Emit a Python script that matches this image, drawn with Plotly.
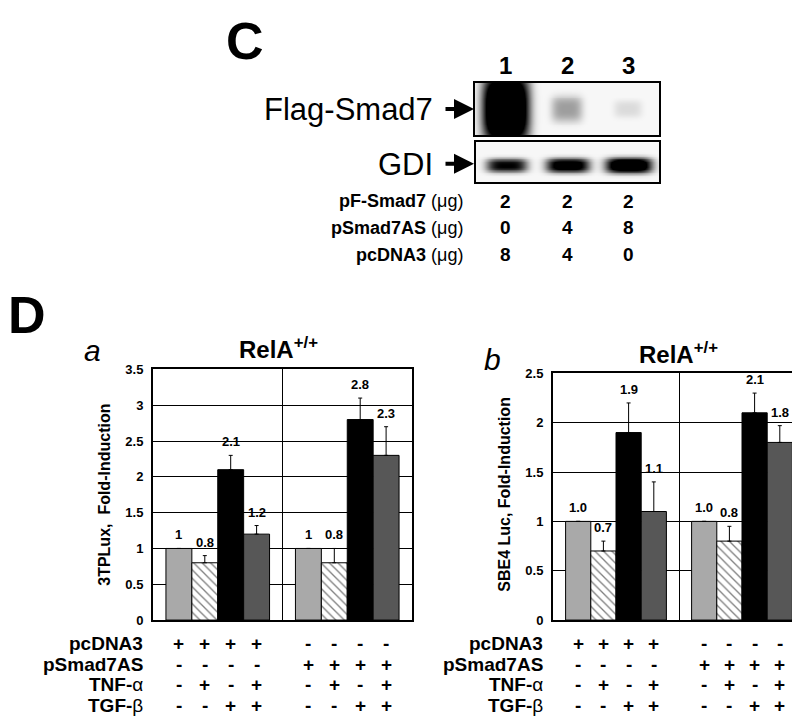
import numpy as np
import plotly.graph_objects as go

W, H = 800, 717
FONT = "Liberation Sans, Arial, Helvetica, sans-serif"

# ---------------- Panel C data (western blot) ----------------
lane_labels = ["1", "2", "3"]
flag_smad7_intensity = [1.0, 0.22, 0.07]
gdi_intensity = [0.72, 0.85, 1.0]
pf_smad7_ug = [2, 2, 2]
psmad7as_ug = [0, 4, 8]
pcdna3_ug = [8, 4, 0]
c_row_names = ["pF-Smad7", "pSmad7AS", "pcDNA3"]

# ---------------- Panel D data (reporter assays) ----------------
a_values = [1.0, 0.8, 2.1, 1.2, 1.0, 0.8, 2.8, 2.3]
a_errors = [0.0, 0.1, 0.2, 0.12, 0.0, 0.2, 0.3, 0.4]
b_values = [1.0, 0.7, 1.9, 1.1, 1.0, 0.8, 2.1, 1.8]
b_errors = [0.0, 0.1, 0.3, 0.3, 0.0, 0.15, 0.2, 0.17]
a_ticks = [0, 0.5, 1, 1.5, 2, 2.5, 3, 3.5]
b_ticks = [0, 0.5, 1, 1.5, 2, 2.5]
a_title = "3TPLux,  Fold-Induction"
b_title = "SBE4 Luc, Fold-Induction"
row_names = ["pcDNA3", "pSmad7AS", "TNF-α", "TGF-β"]
row_pcdna3 = ["+", "+", "+", "+", "-", "-", "-", "-"]
row_psmad7as = ["-", "-", "-", "-", "+", "+", "+", "+"]
row_tnf = ["-", "+", "-", "+", "-", "+", "-", "+"]
row_tgf = ["-", "-", "+", "+", "-", "-", "+", "+"]

# styles
slot_colors = ["#a9a9a9", "#ffffff", "#000000", "#575757"]
slot_patterns = ["", "\\", "", ""]


def px(x):
    return x / W


def py(y):
    return 1 - y / H


fig = go.Figure()

# ---------------- blots ----------------
xs = np.linspace(0, 3, 184)
ys = np.linspace(0, 1, 56)
XX, YY = np.meshgrid(xs, ys)


def blot(intens, yc, sy_base, sy_gain, gain):
    z = np.full_like(XX, 0.03)
    for i, I in enumerate(intens):
        cx = i + 0.5
        sx = 0.22 + 0.16 * I
        sy = sy_base + sy_gain * I
        g = np.exp(-(np.abs(XX - cx) / sx) ** 4 - (np.abs(YY - yc) / sy) ** 3)
        z = z + gain * I * g
    return np.clip(z, 0, 1)


fig.add_trace(go.Heatmap(z=blot(flag_smad7_intensity, 0.5, 0.12, 0.55, 1.6), x=xs, y=ys,
                         colorscale=[[0, "#ffffff"], [1, "#000000"]], zmin=0, zmax=1,
                         showscale=False, xaxis="x3", yaxis="y3", hoverinfo="skip"))
fig.add_trace(go.Heatmap(z=blot(gdi_intensity, 0.42, 0.12, 0.07, 1.35), x=xs, y=ys,
                         colorscale=[[0, "#ffffff"], [1, "#000000"]], zmin=0, zmax=1,
                         showscale=False, xaxis="x4", yaxis="y4", hoverinfo="skip"))

# ---------------- bar charts ----------------
n_groups = 2
per_group = 4
group_span = 5


def bar_x(k):
    g, s = divmod(k, per_group)
    return g * group_span + s + 1


for chart, (vals, errs, xa, ya) in enumerate([(a_values, a_errors, "x", "y"),
                                              (b_values, b_errors, "x2", "y2")]):
    for s in range(per_group):
        idx = [g * per_group + s for g in range(n_groups)]
        fig.add_trace(go.Bar(
            x=[bar_x(k) for k in idx], y=[vals[k] for k in idx], width=1,
            marker=dict(color=slot_colors[s], line=dict(color="black", width=1),
                        pattern=dict(shape=slot_patterns[s], fgcolor="black",
                                     bgcolor="white", size=6, solidity=0.22)),
            error_y=dict(type="data", symmetric=False, array=[errs[k] for k in idx],
                         arrayminus=[0] * len(idx), color="black", thickness=1, width=2),
            xaxis=xa, yaxis=ya, showlegend=False, hoverinfo="skip"))

frame = dict(showline=True, mirror=True, linecolor="black", linewidth=2, zeroline=False)
xcommon = dict(range=[0, 10], tickvals=[5], showticklabels=False, showgrid=True,
               gridcolor="black", gridwidth=1, ticks="", **frame)


def ycommon(ticks):
    return dict(range=[0, ticks[-1]], tickvals=ticks, ticktext=[f"{t:g}" for t in ticks],
                showgrid=True, gridcolor="black", gridwidth=1, ticks="",
                tickfont=dict(family=FONT, size=13, color="black", weight="bold"),
                ticklabelstandoff=5, **frame)


blotax = dict(range=[0, 3], showticklabels=False, showgrid=False, ticks="", **frame)
blotay = dict(range=[0, 1], showticklabels=False, showgrid=False, ticks="", **frame)

fig.update_layout(
    width=W, height=H, margin=dict(l=0, r=0, t=0, b=0),
    paper_bgcolor="white", plot_bgcolor="white", barmode="overlay",
    font=dict(family=FONT, color="black"),
    xaxis=dict(domain=[px(145), px(404)], anchor="y", **xcommon),
    yaxis=dict(domain=[py(618), py(362)], anchor="x", **ycommon(a_ticks)),
    xaxis2=dict(domain=[px(545), px(797)], anchor="y2", **xcommon),
    yaxis2=dict(domain=[py(618), py(366)], anchor="x2", **ycommon(b_ticks)),
    xaxis3=dict(domain=[px(467), px(651)], anchor="y3", **blotax),
    yaxis3=dict(domain=[py(123), py(69)], anchor="x3", **blotay),
    xaxis4=dict(domain=[px(468), px(651)], anchor="y4", **blotax),
    yaxis4=dict(domain=[py(171), py(130)], anchor="x4", **blotay),
)

ann = []


def text(x, y, t, size, xanchor="center", yanchor="middle", xref="paper", yref="paper",
         **kw):
    ann.append(dict(x=x, y=y, text=t, xref=xref, yref=yref, xanchor=xanchor,
                    yanchor=yanchor, showarrow=False,
                    font=dict(family=FONT, size=size, color="black"), **kw))


# Panel C texts
text(px(237), py(27), "<b>C</b>", 52)
for i, lab in enumerate(lane_labels):
    text(i + 0.5, py(52), f"<b>{lab}</b>", 24, xref="x3")
text(px(427), py(97), "Flag-Smad7", 31, xanchor="right")
text(px(427), py(153), "GDI", 31, xanchor="right")
for yy in (96, 152):
    ann.append(dict(x=px(466), y=py(yy), xref="paper", yref="paper", text="",
                    showarrow=True, ax=-30, ay=0, arrowhead=2, arrowsize=1,
                    arrowwidth=4, arrowcolor="black"))
for r, (name, vals) in enumerate(zip(c_row_names, [pf_smad7_ug, psmad7as_ug, pcdna3_ug])):
    yy = py(190 + r * 27.5)
    text(px(457), yy, f"<b>{name}</b> (μg)", 18, xanchor="right")
    for i, v in enumerate(vals):
        text(i + 0.5, yy, f"<b>{v}</b>", 19, xref="x3")

# Panel D texts
text(px(-2), py(306), "<b>D</b>", 52, xanchor="left")
text(px(84), py(343), "<i>a</i>", 30)
text(px(485), py(352), "<i>b</i>", 30)
text(px(270), py(340), "<b>RelA<sup>+/+</sup></b>", 24)
text(px(670), py(345), "<b>RelA<sup>+/+</sup></b>", 24)
text(px(97), py(490), f"<b>{a_title}</b>", 16, textangle=-90)
text(px(497), py(490), f"<b>{b_title}</b>", 16, textangle=-90)

rows = [row_pcdna3, row_psmad7as, row_tnf, row_tgf]
for (vals, errs, xa, ya, fmt, lab_x) in [(a_values, a_errors, "x", "y", "{:g}", 137),
                                         (b_values, b_errors, "x2", "y2", "{:.1f}", 537)]:
    for k, (v, e) in enumerate(zip(vals, errs)):
        text(bar_x(k), v + e, "<b>" + fmt.format(v) + "</b>", 13, xref=xa, yref=ya,
             yanchor="bottom", yshift=4)
    for r, (name, signs) in enumerate(zip(row_names, rows)):
        yy = py(642 + r * 21)
        if "-" in name and name[-1] in "αβ":
            label = f"<b>{name[:-1]}</b>{name[-1]}"
        else:
            label = f"<b>{name}</b>"
        text(px(lab_x), yy, label, 19, xanchor="right")
        for k, sgn in enumerate(signs):
            text(bar_x(k), yy, f"<b>{sgn}</b>", 19, xref=xa)

fig.update_layout(annotations=ann)
fig.write_html("out.html")
